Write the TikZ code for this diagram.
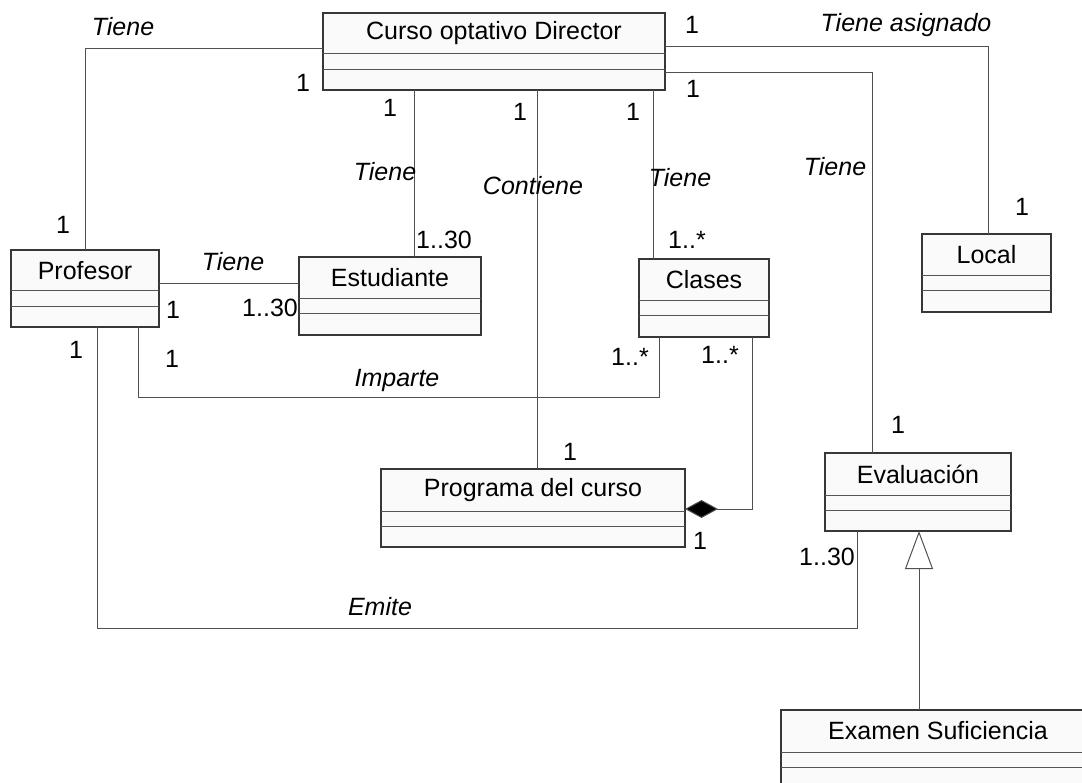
\documentclass[tikz,border=0pt]{standalone}
\usepackage{fontspec}
\setmainfont{Liberation Sans}
\usetikzlibrary{arrows.meta}

\definecolor{boxbg}{RGB}{250,250,250}
\definecolor{edgecol}{RGB}{80,80,80}
\definecolor{framecol}{RGB}{55,55,55}

\tikzset{
  classframe/.style={draw=framecol, line width=1.3pt, fill=boxbg, inner sep=0pt, outer sep=0pt},
  compline/.style={draw=framecol!85, line width=1pt},
  classname/.style={font=\fontsize{25}{29}\selectfont, inner sep=0pt},
  assoc/.style={draw=edgecol, line width=1pt},
  rolelabel/.style={font=\fontsize{25}{29}\selectfont\itshape, inner sep=0pt},
  mult/.style={font=\fontsize{25}{29}\selectfont, inner sep=0pt},
  composition/.style={assoc, -{Diamond[length=33pt,width=18pt,fill=black]}},
  generalization/.style={assoc, -{Triangle[open,length=38pt,width=28pt,fill=white]}},
}

% UML class: name, x1, y1, x2, y2, divider 1, divider 2, title
\newcommand\umlclass[8]{%
  \node[classframe, anchor=north west,
        minimum width={(#4-#2)*1pt}, minimum height={(#5-#3)*1pt}] (#1) at (#2,#3) {};
  \draw[compline] (#2,#6) -- (#4,#6);
  \draw[compline] (#2,#7) -- (#4,#7);
  \node[classname] (#1-name) at ({(#2+#4)/2},{(#3+#6)/2}) {#8};
}

\begin{document}
\begin{tikzpicture}[x=1pt,y=-1pt]
\clip (0,0) rectangle (1082,783);
\fill[white] (0,0) rectangle (1082,783);

% classes
\umlclass{cur}{323}{13}{665}{90}{54}{70}{Curso optativo Director}
\umlclass{prof}{11}{250}{159}{327}{291}{307}{Profesor}
\umlclass{est}{299}{257}{481}{335}{299}{314}{Estudiante}
\umlclass{clases}{639}{259}{769}{337}{301}{316}{Clases}
\umlclass{local}{922}{234}{1051}{312}{276}{291}{Local}
\umlclass{prog}{381}{469}{685}{547}{511}{526}{Programa del curso}
\umlclass{eval}{825}{453}{1011}{531}{495}{510}{Evaluación}
\umlclass{exam}{781}{710}{1095}{790}{752}{767}{Examen Suficiencia}

% associations
\draw[assoc] (cur.west |- 0,49) -| (prof.north -| 85,0);
\draw[assoc] (cur.east |- 0,47) -| (local.north -| 988,0);
\draw[assoc] (cur.east |- 0,73) -| (eval.north -| 872,0);
\draw[assoc] (cur.south -| 414,0) -- (est.north -| 414,0);
\draw[assoc] (cur.south -| 537,0) -- (prog.north -| 537,0);
\draw[assoc] (cur.south -| 653,0) -- (clases.north -| 653,0);
\draw[assoc] (prof.east |- 0,284) -- (est.west |- 0,284);
\draw[assoc] (prof.south -| 138,0) -- (138,398) -| (clases.south -| 659,0);
\draw[assoc] (prof.south -| 97,0) -- (97,628) -| (eval.south -| 857,0);

% composition and generalization
\draw[composition] (clases.south -| 752,0) |- (prog.east |- 0,509);
\draw[generalization] (exam.north -| 919,0) -- (eval.south -| 919,0);

% association names
\node[rolelabel] (n1) at (123,27) {Tiene};
\node[rolelabel] (n2) at (906,25) {Tiene asignado};
\node[rolelabel] (n3) at (385,172) {Tiene};
\node[rolelabel] (n4) at (533,186) {Contiene};
\node[rolelabel] (n5) at (680,178) {Tiene};
\node[rolelabel] (n6) at (835,167) {Tiene};
\node[rolelabel] (n7) at (233,262) {Tiene};
\node[rolelabel] (n8) at (397,380) {Imparte};
\node[rolelabel] (n9) at (380,607) {Emite};

% multiplicities
\node[mult] (m1) at (303,83) {1};
\node[mult] (m2) at (692,25) {1};
\node[mult] (m3) at (693,89) {1};
\node[mult] (m4) at (390,108) {1};
\node[mult] (m5) at (520,112) {1};
\node[mult] (m6) at (633,112) {1};
\node[mult] (m7) at (1022,207) {1};
\node[mult] (m8) at (63,225) {1};
\node[mult] (m9) at (444,240) {1..30};
\node[mult] (m10) at (687,240) {1..*};
\node[mult] (m11) at (173,310) {1};
\node[mult] (m12) at (270,308) {1..30};
\node[mult] (m13) at (76,350) {1};
\node[mult] (m14) at (172,359) {1};
\node[mult] (m15) at (630,357) {1..*};
\node[mult] (m16) at (720,355) {1..*};
\node[mult] (m17) at (570,452) {1};
\node[mult] (m18) at (700,541) {1};
\node[mult] (m19) at (898,425) {1};
\node[mult] (m20) at (827,557) {1..30};
\end{tikzpicture}
\end{document}
